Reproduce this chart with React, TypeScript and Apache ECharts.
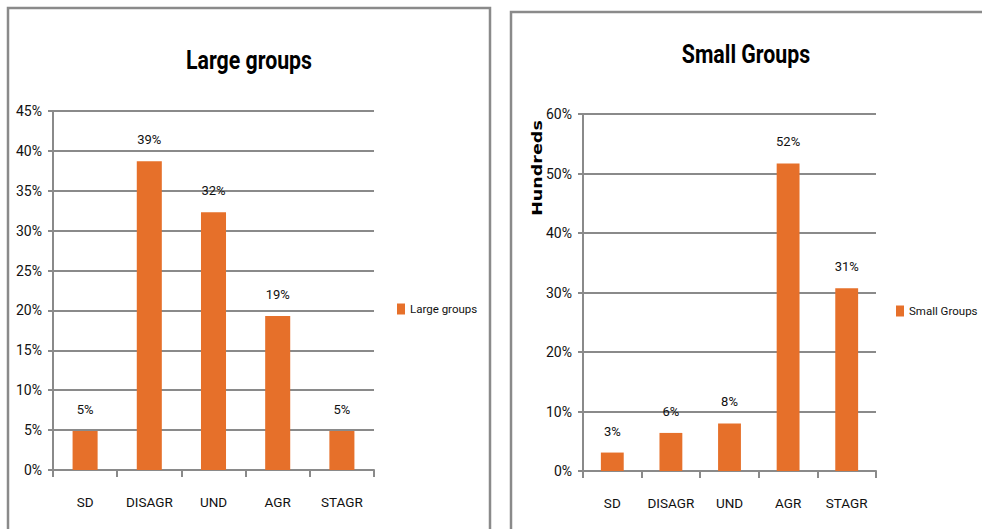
import React, { useEffect, useRef } from "react";
import * as echarts from "echarts";

// Response categories shared by both charts
const categories = ["SD", "DISAGR", "UND", "AGR", "STAGR"];
// Share of answers per category (fractions of 1)
const largeGroups = [0.049, 0.387, 0.323, 0.193, 0.049];
const smallGroups = [0.031, 0.064, 0.08, 0.517, 0.307];

const FONT = "Roboto, 'Liberation Sans', sans-serif";
const GRAY = "#8a8a8a";
const ORANGE = "#e6702a";
const INK = "#111";

const pct = (v: number) => Math.round(v * 100) + "%";

function axisPair(gridIndex: number, max: number, interval: number) {
  const xAxis = {
    type: "category",
    gridIndex,
    data: categories,
    axisLine: { lineStyle: { color: GRAY, width: 2 } },
    axisTick: { show: true, length: 7, lineStyle: { color: GRAY, width: 2 } },
    axisLabel: {
      color: INK,
      fontFamily: FONT,
      fontSize: 13.5,
      margin: 25,
      interval: 0,
    },
  };
  const yAxis = {
    type: "value",
    gridIndex,
    min: 0,
    max,
    interval,
    axisLine: { show: true, lineStyle: { color: GRAY, width: 2 } },
    axisTick: { show: true, length: 5, lineStyle: { color: GRAY, width: 2 } },
    splitLine: { show: true, lineStyle: { color: GRAY, width: 2 } },
    axisLabel: {
      color: INK,
      fontFamily: FONT,
      fontSize: 14,
      margin: 11,
      formatter: pct,
    },
  };
  return { xAxis, yAxis };
}

function barSeries(name: string, idx: number, data: number[]) {
  return {
    name,
    type: "bar",
    xAxisIndex: idx,
    yAxisIndex: idx,
    data,
    barWidth: "39%",
    itemStyle: { color: ORANGE },
    label: {
      show: true,
      position: "top",
      distance: 15,
      color: INK,
      fontFamily: FONT,
      fontSize: 13,
      formatter: (p: any) => pct(p.value),
    },
  };
}

function legendFor(name: string, left: number, top: number) {
  return {
    data: [name],
    left,
    top,
    padding: 0,
    icon: "rect",
    itemWidth: 8,
    itemHeight: 11,
    textStyle: { color: INK, fontFamily: FONT, fontSize: 11.5 },
  };
}

function titleText(text: string, x: number, y: number) {
  return {
    type: "text",
    x,
    y,
    scaleX: 0.82,
    style: {
      text,
      fill: "#000",
      font: `bold 26px ${FONT}`,
      align: "center",
      verticalAlign: "middle",
    },
  };
}

export default function App() {
  const ref = useRef<HTMLDivElement>(null);

  useEffect(() => {
    if (!ref.current) return;
    const chart = echarts.init(ref.current, undefined, { renderer: "svg" });
    const a = axisPair(0, 0.45, 0.05);
    const b = axisPair(1, 0.6, 0.1);

    chart.setOption({
      animation: false,
      backgroundColor: "#fff",
      grid: [
        { left: 53, top: 111, width: 321, height: 359 },
        { left: 583, top: 114, width: 293, height: 357 },
      ],
      xAxis: [a.xAxis, b.xAxis],
      yAxis: [a.yAxis, b.yAxis],
      legend: [legendFor("Large groups", 397, 303), legendFor("Small Groups", 896, 305)],
      series: [
        barSeries("Large groups", 0, largeGroups),
        barSeries("Small Groups", 1, smallGroups),
      ],
      graphic: [
        {
          type: "rect",
          shape: { x: 8, y: 8, width: 482, height: 560 },
          style: { fill: "none", stroke: GRAY, lineWidth: 2.5 },
          silent: true,
        },
        {
          type: "rect",
          shape: { x: 511, y: 12, width: 520, height: 560 },
          style: { fill: "none", stroke: GRAY, lineWidth: 2.5 },
          silent: true,
        },
        titleText("Large groups", 249, 60),
        titleText("Small Groups", 746, 54),
        {
          type: "text",
          x: 537,
          y: 168,
          rotation: Math.PI / 2,
          scaleX: 1.3,
          style: {
            text: "Hundreds",
            fill: "#000",
            font: "bold 13.5px 'DejaVu Sans', sans-serif",
            align: "center",
            verticalAlign: "middle",
          },
        },
      ],
    });

    return () => chart.dispose();
  }, []);

  return (
    <div
      ref={ref}
      style={{ position: "fixed", left: 0, top: 0, width: 982, height: 529 }}
    />
  );
}
